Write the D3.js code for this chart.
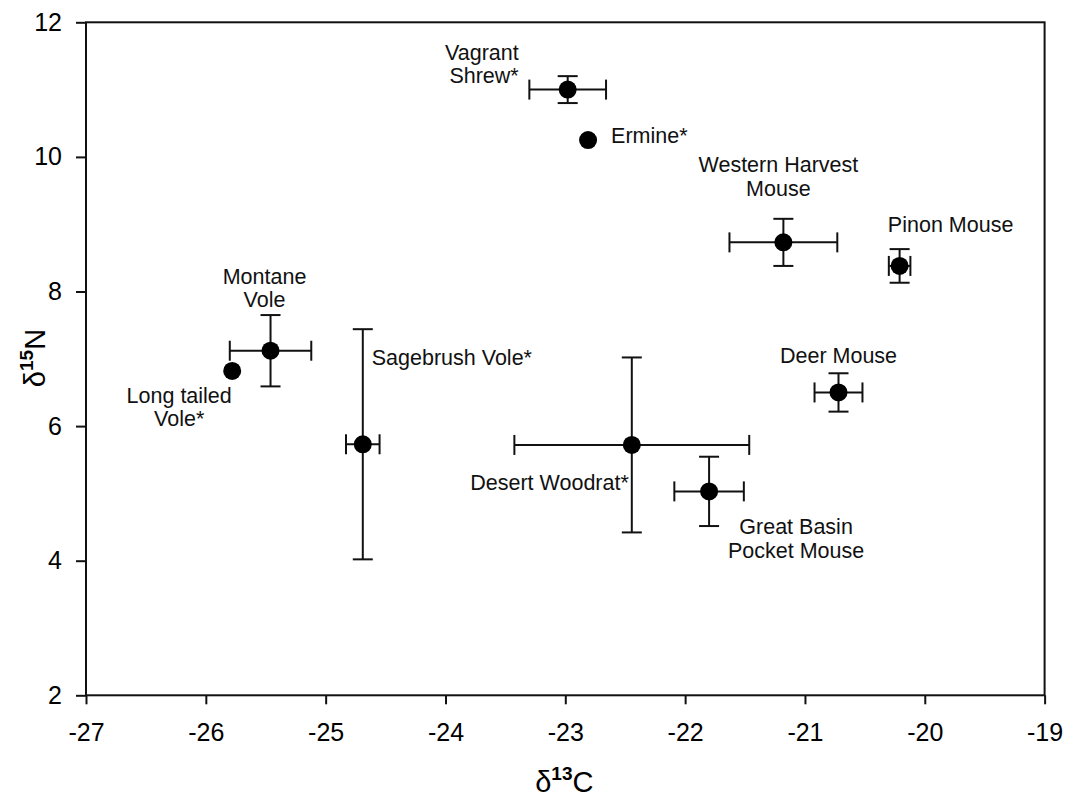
<!DOCTYPE html>
<html>
<head>
<meta charset="utf-8">
<script src="https://cdn.jsdelivr.net/npm/d3@7"></script>
<style>
  html, body { margin: 0; padding: 0; background: #fff; }
  svg { display: block; font-family: "Liberation Sans", Arial, Helvetica, sans-serif; }
</style>
</head>
<body>
<svg id="chart" width="1069" height="797"></svg>
<script>
// ---- data ----
const species = ["Vagrant Shrew*", "Ermine*", "Western Harvest Mouse", "Pinon Mouse", "Montane Vole",
                 "Long tailed Vole*", "Sagebrush Vole*", "Desert Woodrat*", "Deer Mouse", "Great Basin Pocket Mouse"];
const labelLines = [["Vagrant", "Shrew*"], ["Ermine*"], ["Western Harvest", "Mouse"], ["Pinon Mouse"], ["Montane", "Vole"],
                    ["Long tailed", "Vole*"], ["Sagebrush Vole*"], ["Desert Woodrat*"], ["Deer Mouse"], ["Great Basin", "Pocket Mouse"]];
const d13C    = [-22.98, -22.81, -21.18, -20.21, -25.46, -25.78, -24.69, -22.445, -20.72, -21.80];
const d15N    = [11.00, 10.25, 8.73, 8.38, 7.12, 6.82, 5.73, 5.72, 6.50, 5.03];
const d13Cerr = [0.32, null, 0.45, 0.09, 0.34, null, 0.14, 0.98, 0.20, 0.29];
const d15Nerr = [0.20, null, 0.35, 0.25, 0.53, null, 1.71, 1.30, 0.285, 0.515];
const xTicks  = [-27, -26, -25, -24, -23, -22, -21, -20, -19];
const yTicks  = [2, 4, 6, 8, 10, 12];

// label placement (pixel offsets from the point, text anchor)
const labelLayout = [
  {dx: -49, dy: -30, anchor: "end"},
  {dx: 23,  dy: 3,   anchor: "start"},
  {dx: -5,  dy: -70, anchor: "middle"},
  {dx: 51,  dy: -34, anchor: "middle"},
  {dx: -6,  dy: -67, anchor: "middle"},
  {dx: -53, dy: 32,  anchor: "middle"},
  {dx: 9,   dy: -79, anchor: "start"},
  {dx: -3,  dy: 45,  anchor: "end"},
  {dx: 0,   dy: -29, anchor: "middle"},
  {dx: 87,  dy: 43,  anchor: "middle"}
];

const W = 1069, H = 797;
const margin = {left: 86, top: 22.3, right: 24.4, bottom: 101.7};
const iw = W - margin.left - margin.right;
const ih = H - margin.top - margin.bottom;
const ink = "#111";

const svg = d3.select("#chart");
const g = svg.append("g").attr("transform", `translate(${margin.left},${margin.top})`);

const x = d3.scaleLinear().domain([-27, -19]).range([0, iw]);
const y = d3.scaleLinear().domain([2, 12]).range([ih, 0]);

// axes
const xAxis = g.append("g").attr("transform", `translate(0,${ih})`)
  .call(d3.axisBottom(x).tickValues(xTicks).tickFormat(d => String(d)).tickSize(9).tickSizeOuter(0).tickPadding(19));
const yAxis = g.append("g")
  .call(d3.axisLeft(y).tickValues(yTicks).tickFormat(d => String(d)).tickSize(10).tickSizeOuter(0).tickPadding(14));
[xAxis, yAxis].forEach(a => {
  a.select(".domain").remove();
  a.selectAll(".tick line").attr("stroke", ink).attr("stroke-width", 2);
  a.selectAll(".tick text").attr("fill", "#000").style("font-size", "25px").style("font-family", '"Liberation Sans", Arial, sans-serif');
});

// frame
g.append("rect").attr("x", 0).attr("y", 0).attr("width", iw).attr("height", ih)
  .attr("fill", "none").attr("stroke", ink).attr("stroke-width", 2);

const data = species.map((s, i) => ({name: s, lines: labelLines[i], cx: d13C[i], cy: d15N[i], ex: d13Cerr[i], ey: d15Nerr[i], lay: labelLayout[i]}));

const cap = 10;
const eb = g.append("g").attr("stroke", ink).attr("stroke-width", 2).attr("fill", "none");
data.forEach(d => {
  const px = x(d.cx), py = y(d.cy);
  if (d.ex != null) {
    const x0 = x(d.cx - d.ex), x1 = x(d.cx + d.ex);
    eb.append("line").attr("x1", x0).attr("x2", x1).attr("y1", py).attr("y2", py);
    eb.append("line").attr("x1", x0).attr("x2", x0).attr("y1", py - cap).attr("y2", py + cap);
    eb.append("line").attr("x1", x1).attr("x2", x1).attr("y1", py - cap).attr("y2", py + cap);
  }
  if (d.ey != null) {
    const y0 = y(d.cy - d.ey), y1 = y(d.cy + d.ey);
    eb.append("line").attr("x1", px).attr("x2", px).attr("y1", y0).attr("y2", y1);
    eb.append("line").attr("x1", px - cap).attr("x2", px + cap).attr("y1", y0).attr("y2", y0);
    eb.append("line").attr("x1", px - cap).attr("x2", px + cap).attr("y1", y1).attr("y2", y1);
  }
});

g.append("g").selectAll("circle").data(data).join("circle")
  .attr("cx", d => x(d.cx)).attr("cy", d => y(d.cy)).attr("r", 9).attr("fill", "#000");

// labels
const lab = g.append("g").style("font-size", "21.5px").attr("fill", "#111");
data.forEach(d => {
  const t = lab.append("text")
    .attr("x", x(d.cx) + d.lay.dx).attr("y", y(d.cy) + d.lay.dy)
    .attr("text-anchor", d.lay.anchor);
  d.lines.forEach((ln, j) => {
    t.append("tspan").attr("x", x(d.cx) + d.lay.dx).attr("dy", j === 0 ? 0 : 23.5).text(ln);
  });
});

// axis titles
const xt = svg.append("text").attr("x", margin.left + iw / 2 - 1).attr("y", 792)
  .attr("text-anchor", "middle").attr("fill", "#000").style("font-size", "29px");
xt.append("tspan").text("δ");
xt.append("tspan").attr("dy", -12).style("font-size", "19px").style("font-weight", "bold").text("13");
xt.append("tspan").attr("dy", 12).text("C");

const yt = svg.append("text").attr("transform", `translate(45,${358}) rotate(-90)`)
  .attr("text-anchor", "middle").attr("fill", "#000").style("font-size", "29px");
yt.append("tspan").text("δ");
yt.append("tspan").attr("dy", -12).style("font-size", "19px").style("font-weight", "bold").text("15");
yt.append("tspan").attr("dy", 12).text("N");
</script>
</body>
</html>
